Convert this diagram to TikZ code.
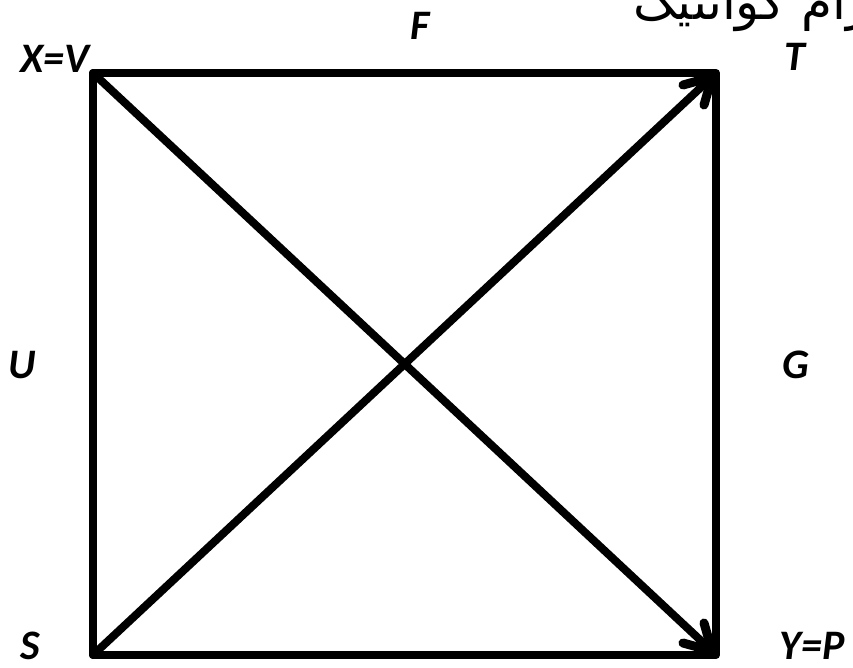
\documentclass[tikz,border=0pt]{standalone}
\usepackage{fontspec}
\setmainfont{Carlito}
\newfontfamily\arabicfont[Script=Arabic]{DejaVu Sans}
\TeXXeTstate=1
\begin{document}
\begin{tikzpicture}[x=1pt,y=-1pt,
  edge/.style={line width=8pt,line cap=round,line join=round},
  lab/.style={font=\fontsize{42}{42}\selectfont\bfseries\itshape,inner sep=0pt}]
\useasboundingbox (0,0) rectangle (853,668);
\clip (0,0) rectangle (853,668);
\coordinate (XV) at (93,73);
\coordinate (T) at (716,73);
\coordinate (S) at (93,655);
\coordinate (YP) at (716,655);
\coordinate (tipT) at (712,77);
\coordinate (bT1) at (683,85);
\coordinate (bT2) at (704,105);
\coordinate (tipP) at (712,651);
\coordinate (bP1) at (683,643);
\coordinate (bP2) at (704,623);
\draw[edge] (XV) -- (T) -- (YP) -- (S) -- cycle;
\draw[edge] (XV) -- (tipP);
\draw[edge] (S) -- (tipT);
\draw[edge,line width=9pt] (bT1) -- (tipT) -- (bT2);
\draw[edge,line width=9pt] (bP1) -- (tipP) -- (bP2);
\node[lab] (lF) at (420,26) {F};
\node[lab] (lXV) at (55,59) {X=V};
\node[lab] (lT) at (795,57) {T};
\node[lab] (lU) at (22,365) {U};
\node[lab] (lG) at (796,365) {G};
\node[lab] (lS) at (30,646) {S};
\node[lab] (lYP) at (812,646) {Y=P};
\node[anchor=base west,inner sep=0pt,font=\fontsize{50}{50}\selectfont] (title) at (633,20) {\arabicfont\beginR دیاگرام کوانتیک\endR};
\end{tikzpicture}
\end{document}
